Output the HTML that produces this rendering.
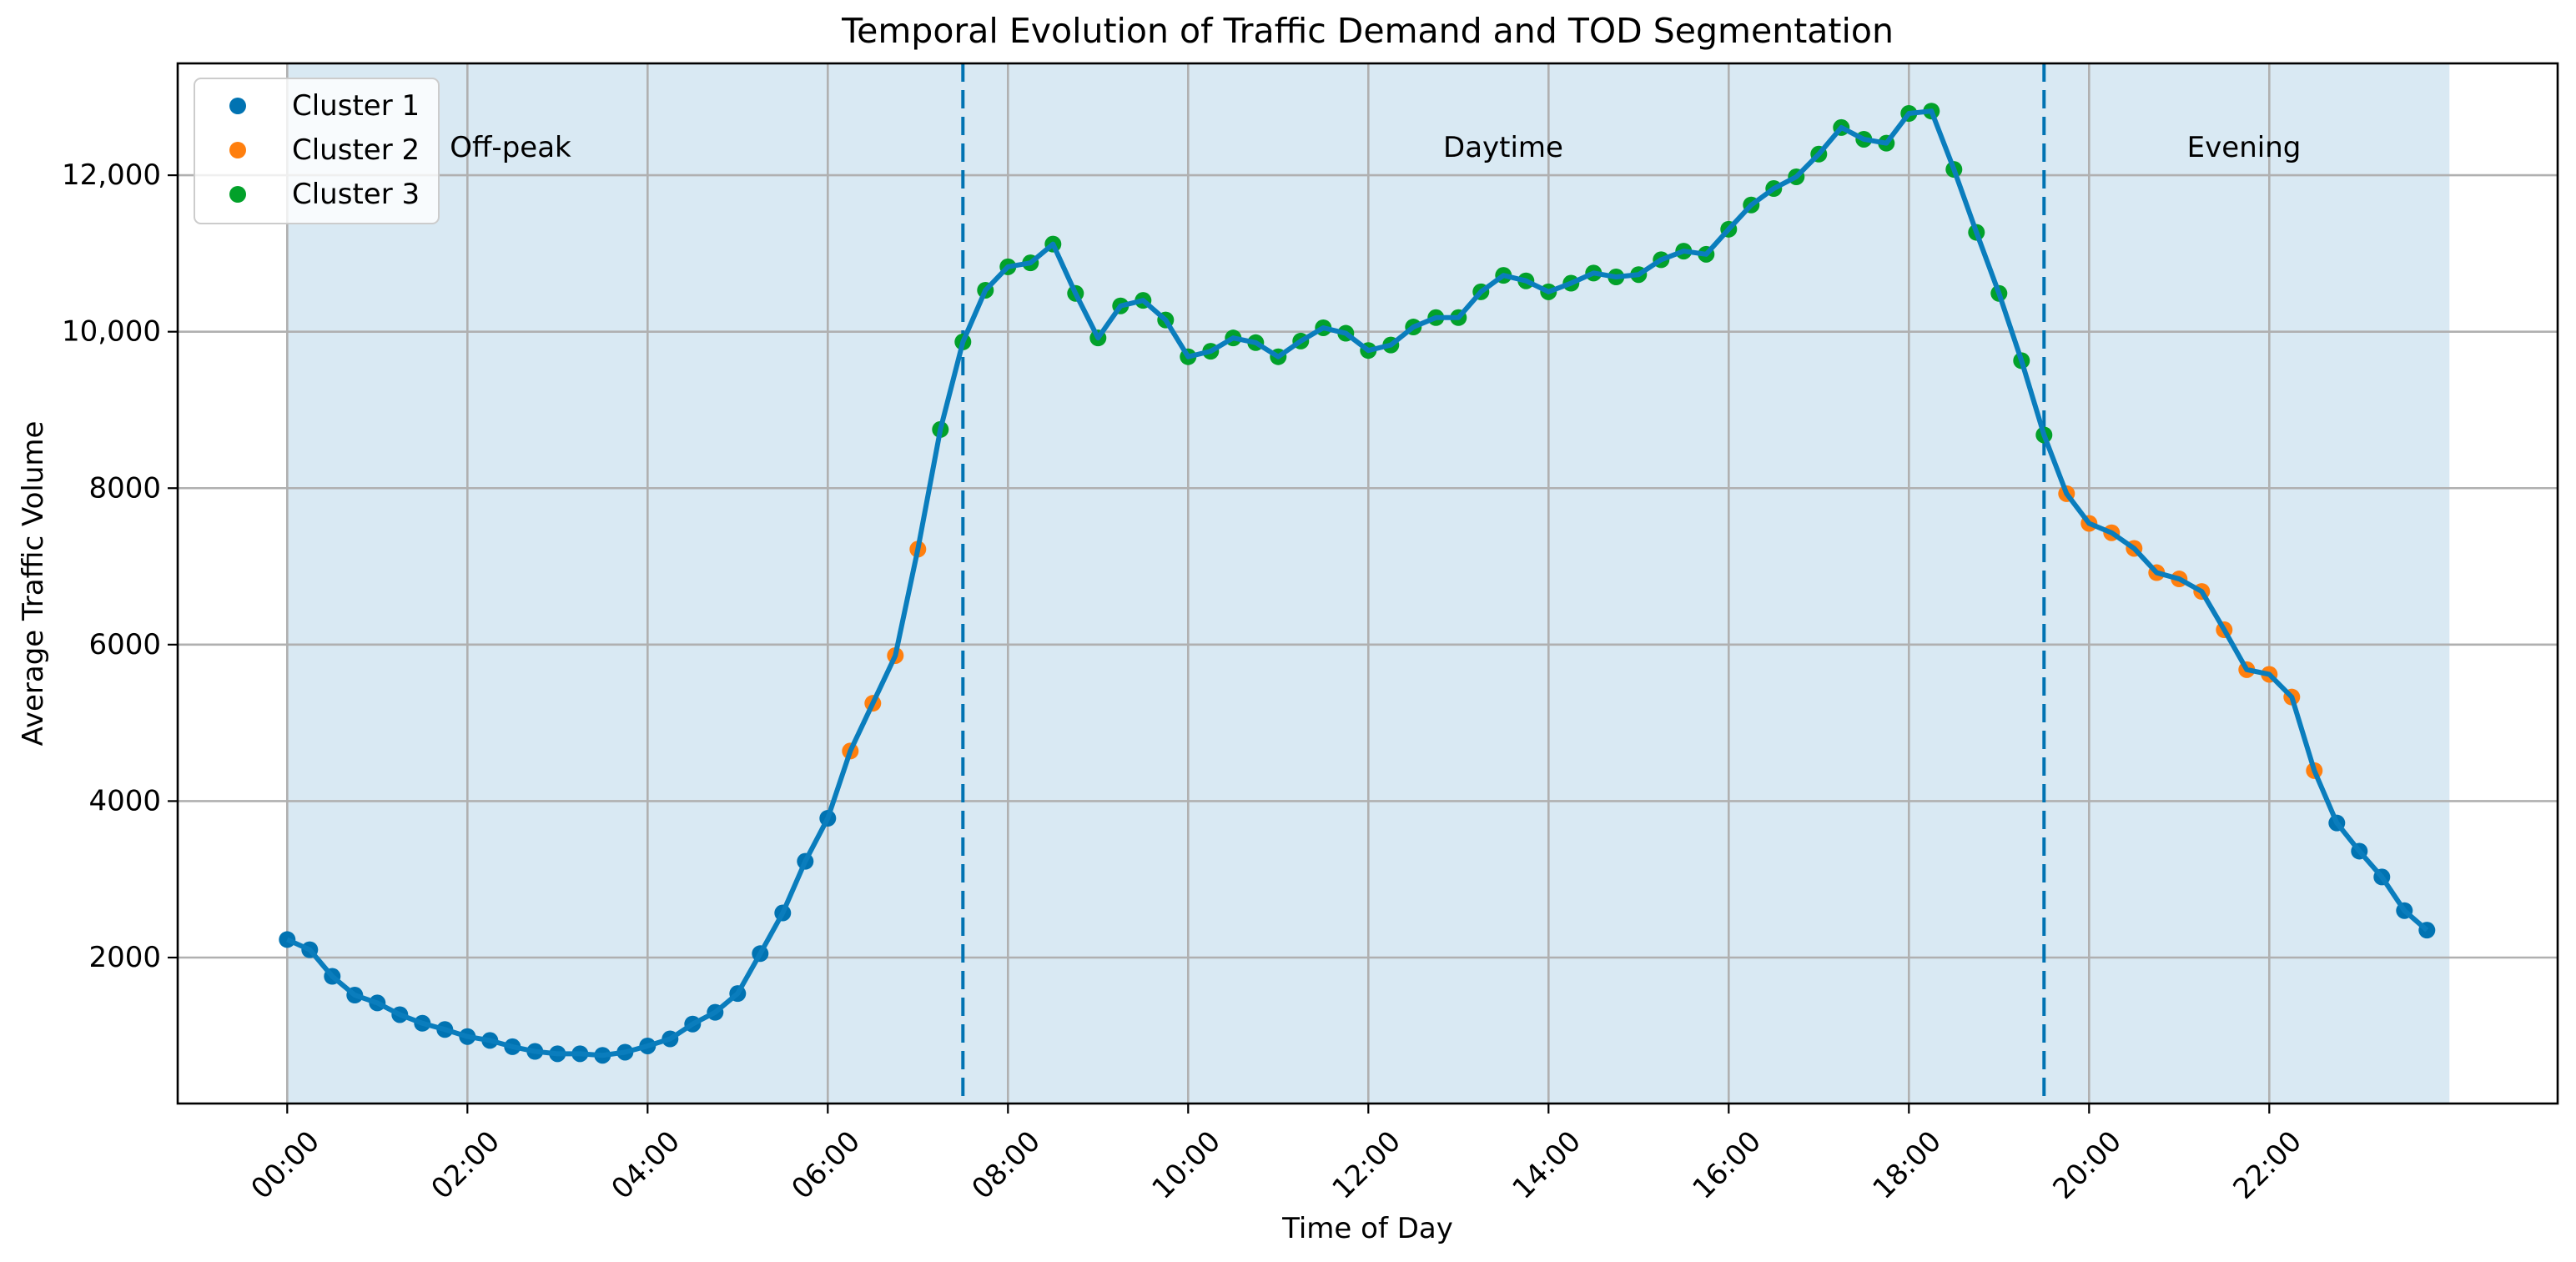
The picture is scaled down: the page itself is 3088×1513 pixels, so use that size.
<!DOCTYPE html>
<html><head><meta charset="utf-8"><style>
html,body{margin:0;padding:0;background:#fff}
svg{display:block;font-family:"DejaVu Sans","Liberation Sans",sans-serif}
</style></head><body>
<svg id="chart" xmlns="http://www.w3.org/2000/svg" width="3088" height="1513" viewBox="0 0 3088 1513">
<rect width="3088" height="1513" fill="#fff"/>
<g id="plot"></g>
</svg>
<script>
const times = [];
for (let i = 0; i < 96; i++) times.push(i * 0.25);
const volumes = [
2230,2100,1760,1520,1420,1270,1160,1080,990,940,860,800,770,770,750,790,
870,960,1150,1300,1540,2050,2570,3230,3780,4640,5250,5860,7220,8750,9870,10530,
10830,10880,11120,10490,9920,10330,10400,10150,9680,9750,9920,9860,9680,9880,10050,9980,
9760,9830,10060,10180,10180,10510,10720,10650,10510,10620,10750,10700,10730,10920,11030,10990,
11310,11620,11830,11980,12270,12610,12460,12410,12790,12820,12075,11270,10490,9630,8680,7930,
7550,7430,7230,6920,6840,6680,6190,5680,5620,5330,4390,3720,3360,3030,2600,2350];
const clusters = [
1,1,1,1,1,1,1,1,1,1,1,1,1,1,1,1,
1,1,1,1,1,1,1,1,1,2,2,2,2,3,3,3,
3,3,3,3,3,3,3,3,3,3,3,3,3,3,3,3,
3,3,3,3,3,3,3,3,3,3,3,3,3,3,3,3,
3,3,3,3,3,3,3,3,3,3,3,3,3,3,3,2,
2,2,2,2,2,2,2,2,2,2,2,1,1,1,1,1];
const xTickHours = [0,2,4,6,8,10,12,14,16,18,20,22];
const xTickLabels = ["00:00","02:00","04:00","06:00","08:00","10:00","12:00","14:00","16:00","18:00","20:00","22:00"];
const yTicks = [2000,4000,6000,8000,10000,12000];
const yTickLabels = ["2000","4000","6000","8000","10,000","12,000"];
const boundaries = [7.5, 19.5];
const segments = [["Off-peak",612],["Daytime",1802],["Evening",2690]];
const clusterNames = ["Cluster 1","Cluster 2","Cluster 3"];
const clusterColors = {1:"#0173b2",2:"#ff7f0e",3:"#02a12a"};

const L=213,R=3066,T=76,B=1323;
const X = h => 344.3 + h*108.0;
const Y = v => 1148 - (v-2000)*0.09379;
const NS="http://www.w3.org/2000/svg";
const g=document.getElementById('plot');
function mk(tag,attrs,parent){const e=document.createElementNS(NS,tag);for(const k in attrs)e.setAttribute(k,attrs[k]);(parent||g).appendChild(e);return e;}

// shading
let sh=mk('rect',{x:X(0),y:T,width:X(24)-X(0),height:B-T,fill:"#d9e9f3"});


// grid
xTickHours.forEach((h,i)=>{
  let l=mk('line',{x1:X(h),x2:X(h),y1:T,y2:B,stroke:"#b0b0b0","stroke-width":2.6});
  
  
  let t=mk('line',{x1:X(h),x2:X(h),y1:B,y2:B+12,stroke:"#000","stroke-width":2.2});
  
  
  let cx=X(h)-2, cy=1397;
  let tx=mk('text',{x:cx,y:cy,"font-size":34,"text-anchor":"middle","dominant-baseline":"central",fill:"#000",transform:`rotate(-45 ${cx} ${cy})`});
  tx.textContent=xTickLabels[i];
  
  
});
yTicks.forEach((v,i)=>{
  let l=mk('line',{x1:L,x2:R,y1:Y(v),y2:Y(v),stroke:"#b0b0b0","stroke-width":2.6});
  
  
  let t=mk('line',{x1:L-12,x2:L,y1:Y(v),y2:Y(v),stroke:"#000","stroke-width":2.2});
  
  
  let tx=mk('text',{x:L-20,y:Y(v),"font-size":34,"text-anchor":"end","dominant-baseline":"central",fill:"#000"});
  tx.textContent=yTickLabels[i];
  
  
});
// boundaries
boundaries.forEach(b=>{
  let l=mk('line',{x1:X(b),x2:X(b),y1:T,y2:B,stroke:"#0173b2","stroke-width":4,"stroke-dasharray":"22 10"});
  
  
});
// points
times.forEach((h,i)=>{
  let c=mk('circle',{cx:X(h),cy:Y(volumes[i]),r:10,fill:clusterColors[clusters[i]]});
  
  
});
// line
let pl=mk('polyline',{points:times.map((h,i)=>X(h)+','+Y(volumes[i])).join(' '),fill:"none",stroke:"#0a7dbd","stroke-width":6,"stroke-linejoin":"round"});


// segment labels
segments.forEach(s=>{
  let t=mk('text',{x:s[1],y:177,"font-size":34,"text-anchor":"middle","dominant-baseline":"central",fill:"#000"});
  t.textContent=s[0];
  
  
});
// axes frame
let fr=mk('rect',{x:L,y:T,width:R-L,height:B-T,fill:"none",stroke:"#000","stroke-width":2.6});


// legend
let lg=mk('g',{});


mk('rect',{x:233,y:94,width:293,height:174,rx:8,fill:"#fff","fill-opacity":0.8,stroke:"#cccccc","stroke-width":2},lg);
clusterNames.forEach((n,i)=>{
  let e=mk('g',{},lg);
  
  
  mk('circle',{cx:285,cy:127+i*53,r:10,fill:clusterColors[i+1]},e);
  let t=mk('text',{x:350,y:127+i*53,"font-size":34,"dominant-baseline":"central",fill:"#000"},e);
  t.textContent=n;
});
// titles
let ti=mk('text',{x:(L+R)/2,y:37,"font-size":41,"text-anchor":"middle","dominant-baseline":"central",fill:"#000"});
ti.textContent="Temporal Evolution of Traffic Demand and TOD Segmentation";


let xl=mk('text',{x:(L+R)/2,y:1473,"font-size":34,"text-anchor":"middle","dominant-baseline":"central",fill:"#000"});
xl.textContent="Time of Day";


let yl=mk('text',{x:40,y:(T+B)/2,"font-size":34,"text-anchor":"middle","dominant-baseline":"central",fill:"#000",transform:`rotate(-90 40 ${(T+B)/2})`});
yl.textContent="Average Traffic Volume";


</script>
</body></html>
